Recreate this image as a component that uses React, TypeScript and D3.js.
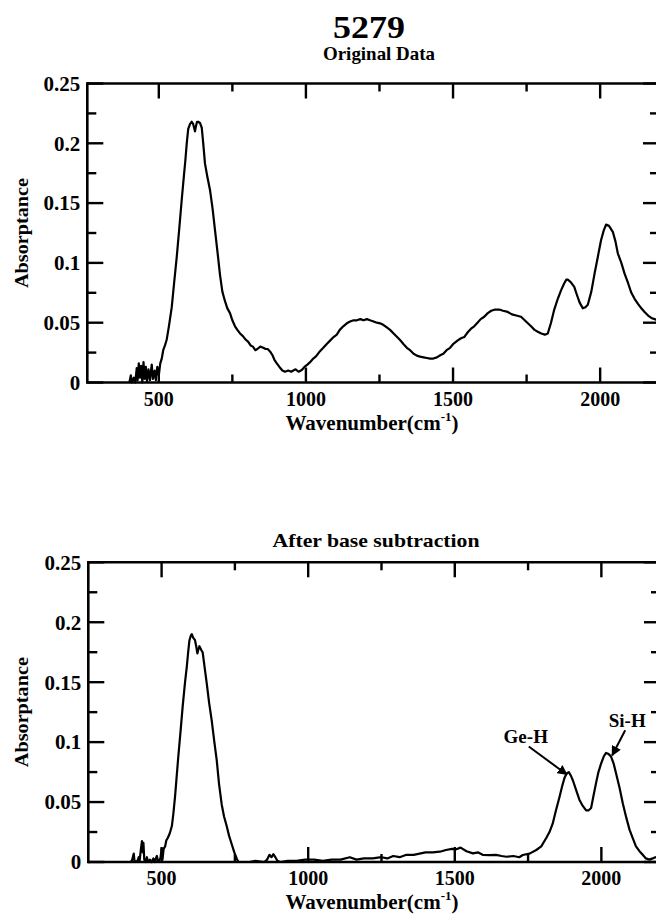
import React from 'react';
import * as d3 from 'd3';

// ---------- data ----------
const xTickMajor = [500, 1000, 1500, 2000];
const xTickMinor = [750, 1250, 1750];
const yTickMajor = [0, 0.05, 0.1, 0.15, 0.2, 0.25];
const yTickLabels = ['0', '0.05', '0.1', '0.15', '0.2', '0.25'];
const yTickMinor = [0.025, 0.075, 0.125, 0.175, 0.225];

const mainTitle = '5279';
const topTitle = 'Original Data';
const bottomTitle = 'After base subtraction';
const yLabel = 'Absorptance';

const originalWn = [400, 405, 408, 415, 420, 425, 428, 432, 436, 440, 444, 448, 452, 456, 460, 465, 470, 476, 480, 486, 490, 495, 500, 505, 510, 515, 521, 527, 535, 544, 552, 561, 570, 578, 585, 590, 595, 600, 606, 612, 617, 621, 623, 626, 630, 634, 640, 646, 651, 657, 665, 674, 683, 691, 700, 708, 716, 725, 733, 742, 750, 759, 767, 776, 785, 795, 804, 812, 820, 828, 835, 845, 855, 863, 870, 878, 886, 893, 901, 910, 920, 929, 940, 950, 957, 965, 975, 986, 995, 1005, 1014, 1025, 1035, 1047, 1059, 1070, 1082, 1094, 1105, 1115, 1127, 1139, 1150, 1162, 1173, 1185, 1196, 1207, 1218, 1230, 1241, 1252, 1264, 1275, 1286, 1298, 1310, 1320, 1332, 1343, 1354, 1366, 1377, 1388, 1400, 1411, 1422, 1433, 1445, 1458, 1467, 1478, 1490, 1500, 1515, 1527, 1538, 1550, 1561, 1572, 1583, 1594, 1606, 1618, 1630, 1643, 1657, 1670, 1686, 1700, 1715, 1731, 1748, 1765, 1777, 1788, 1800, 1812, 1822, 1833, 1844, 1856, 1867, 1878, 1885, 1890, 1900, 1912, 1920, 1930, 1941, 1950, 1958, 1970, 1981, 1992, 2003, 2012, 2020, 2030, 2043, 2052, 2060, 2072, 2083, 2095, 2106, 2117, 2128, 2140, 2151, 2163, 2174, 2185, 2194, 2200];
const originalAbs = [0, 0.006, 0, 0.004, 0, 0.012, 0.002, 0.016, 0.004, 0.014, 0, 0.017, 0.003, 0.013, 0.001, 0.011, 0.002, 0.015, 0.003, 0.01, 0.002, 0.013, 0.006, 0.016, 0.02, 0.027, 0.031, 0.036, 0.048, 0.063, 0.083, 0.105, 0.13, 0.153, 0.172, 0.185, 0.2, 0.212, 0.216, 0.218, 0.216, 0.212, 0.21, 0.214, 0.218, 0.218, 0.217, 0.213, 0.2, 0.183, 0.172, 0.161, 0.145, 0.1275, 0.108, 0.09, 0.076, 0.068, 0.062, 0.058, 0.052, 0.047, 0.044, 0.041, 0.039, 0.036, 0.034, 0.031, 0.03, 0.027, 0.028, 0.03, 0.029, 0.028, 0.028, 0.026, 0.023, 0.019, 0.016, 0.013, 0.01, 0.009, 0.01, 0.009, 0.01, 0.011, 0.009, 0.0105, 0.013, 0.015, 0.017, 0.02, 0.022, 0.026, 0.029, 0.032, 0.035, 0.038, 0.04, 0.044, 0.047, 0.0495, 0.051, 0.052, 0.052, 0.053, 0.052, 0.053, 0.052, 0.051, 0.05, 0.0495, 0.048, 0.046, 0.044, 0.041, 0.038, 0.0355, 0.032, 0.029, 0.027, 0.024, 0.0225, 0.0216, 0.021, 0.0205, 0.02, 0.02, 0.021, 0.023, 0.024, 0.027, 0.029, 0.032, 0.035, 0.037, 0.038, 0.042, 0.045, 0.047, 0.05, 0.053, 0.055, 0.058, 0.06, 0.061, 0.061, 0.06, 0.059, 0.057, 0.056, 0.055, 0.051, 0.047, 0.044, 0.0425, 0.041, 0.04, 0.041, 0.05, 0.061, 0.07, 0.077, 0.083, 0.086, 0.086, 0.084, 0.08, 0.074, 0.067, 0.062, 0.063, 0.065, 0.076, 0.091, 0.105, 0.119, 0.127, 0.132, 0.131, 0.126, 0.118, 0.108, 0.1, 0.091, 0.083, 0.075, 0.07, 0.066, 0.062, 0.059, 0.056, 0.054, 0.053, 0.052, 0.052];

const subtractedWn = [395, 400, 405, 408, 418, 422, 425, 430, 433, 436, 438, 441, 446, 450, 453, 460, 466, 472, 476, 484, 488, 496, 500, 503, 507, 512, 516, 521, 528, 535, 540, 546, 551, 557, 565, 572, 580, 586, 591, 595, 600, 603, 608, 614, 618, 622, 625, 629, 635, 640, 647, 654, 662, 671, 680, 688, 696, 705, 713, 722, 730, 739, 748, 756, 762, 800, 820, 850, 860, 868, 875, 881, 888, 895, 905, 930, 960, 990, 1020, 1050, 1080, 1110, 1142, 1165, 1190, 1220, 1250, 1270, 1290, 1312, 1335, 1360, 1380, 1400, 1425, 1449, 1470, 1490, 1505, 1520, 1540, 1562, 1580, 1595, 1619, 1640, 1660, 1676, 1700, 1720, 1732, 1755, 1778, 1795, 1812, 1823, 1834, 1845, 1857, 1866, 1874, 1882, 1889, 1896, 1903, 1914, 1925, 1936, 1948, 1956, 1965, 1973, 1982, 1990, 1999, 2008, 2016, 2025, 2033, 2042, 2050, 2062, 2073, 2085, 2096, 2107, 2118, 2130, 2141, 2152, 2164, 2175, 2184, 2200];
const subtractedAbs = [0, 0.002, 0.007, 0, 0.001, 0.004, 0.001, 0.012, 0.0175, 0.008, 0.016, 0.002, 0, 0.004, 0, 0.002, 0, 0.003, 0, 0.005, 0, 0.003, 0.011, 0.002, 0.011, 0.013, 0.018, 0.02, 0.024, 0.03, 0.04, 0.055, 0.07, 0.088, 0.11, 0.13, 0.15, 0.163, 0.176, 0.185, 0.189, 0.19, 0.187, 0.185, 0.18, 0.174, 0.177, 0.18, 0.177, 0.175, 0.162, 0.149, 0.133, 0.118, 0.1, 0.085, 0.065, 0.048, 0.038, 0.03, 0.022, 0.015, 0.008, 0.003, 0, 0, 0.001, 0, 0.002, 0.006, 0.004, 0.0065, 0.004, 0.001, 0, 0.001, 0.001, 0.002, 0.002, 0.001, 0.002, 0.002, 0.004, 0.002, 0.003, 0.003, 0.004, 0.003, 0.005, 0.004, 0.006, 0.006, 0.007, 0.008, 0.008, 0.0086, 0.01, 0.011, 0.0106, 0.012, 0.009, 0.0072, 0.008, 0.006, 0.0058, 0.006, 0.005, 0.0044, 0.005, 0.004, 0.0058, 0.007, 0.01, 0.013, 0.02, 0.025, 0.032, 0.043, 0.054, 0.063, 0.07, 0.074, 0.075, 0.072, 0.068, 0.06, 0.052, 0.047, 0.043, 0.043, 0.045, 0.055, 0.066, 0.075, 0.082, 0.088, 0.091, 0.09, 0.088, 0.082, 0.074, 0.062, 0.049, 0.037, 0.027, 0.02, 0.013, 0.009, 0.006, 0.003, 0.002, 0.003, 0.004, 0.003];

const annotationLabels = ['Ge-H', 'Si-H'];
const annotationWn = [1882, 2037];
const annotationAbs = [0.073, 0.089];

// ---------- layout ----------
const W = 656;
const H = 921;
const FONT = "'Liberation Serif', 'Times New Roman', Times, serif";

type PanelProps = {
  wn: number[];
  abs: number[];
  xDomain: [number, number];
  xRange: [number, number];
  yRange: [number, number];
  title: string;
  titleX: number;
  titleY: number;
  titleLen: number;
  showAnnotations?: boolean;
};

const MAJOR = 15;
const MINOR = 8;
const YMAJOR = 16;
const YMINOR = 9;

function Panel(p: PanelProps) {
  const x = d3.scaleLinear().domain(p.xDomain).range(p.xRange);
  const y = d3.scaleLinear().domain([0, 0.25]).range(p.yRange);
  const [x0, x1] = p.xRange;
  const [yb, yt] = p.yRange;
  const pts = p.wn.map((w, i) => [w, p.abs[i]] as [number, number]);
  const line = d3
    .line<[number, number]>()
    .x((d) => x(d[0]))
    .y((d) => y(d[1]));
  const cx = 372;
  const cy = (yb + yt) / 2;
  const sw = 2.4;
  return (
    <g>
      <text
        x={p.titleX}
        y={p.titleY}
        textAnchor="middle"
        fontFamily={FONT}
        fontWeight="bold"
        fontSize={19}
        textLength={p.titleLen}
        lengthAdjust="spacingAndGlyphs"
      >
        {p.title}
      </text>
      {/* frame */}
      <line x1={x0} x2={x1} y1={yb} y2={yb} stroke="#000" strokeWidth={2.6} />
      <line x1={x0} x2={x1} y1={yt} y2={yt} stroke="#000" strokeWidth={2.6} />
      <line x1={x0} x2={x0} y1={yt - 1.3} y2={yb + 1.3} stroke="#000" strokeWidth={2.6} />
      <line x1={x1} x2={x1} y1={yt - 1.3} y2={yb + 1.3} stroke="#000" strokeWidth={2.6} />
      {/* x ticks */}
      {xTickMajor.map((t) => (
        <g key={'xM' + t}>
          <line x1={x(t)} x2={x(t)} y1={yb} y2={yb - MAJOR} stroke="#000" strokeWidth={sw} />
          <line x1={x(t)} x2={x(t)} y1={yt} y2={yt + MAJOR} stroke="#000" strokeWidth={sw} />
          <text
            x={x(t)}
            y={yb + 23}
            textAnchor="middle"
            fontFamily={FONT}
            fontWeight="bold"
            fontSize={20}
          >
            {t}
          </text>
        </g>
      ))}
      {xTickMinor.map((t) => (
        <g key={'xm' + t}>
          <line x1={x(t)} x2={x(t)} y1={yb} y2={yb - MINOR} stroke="#000" strokeWidth={sw} />
          <line x1={x(t)} x2={x(t)} y1={yt} y2={yt + MINOR} stroke="#000" strokeWidth={sw} />
        </g>
      ))}
      {/* y ticks */}
      {yTickMajor.map((t, i) => (
        <g key={'yM' + t}>
          <line x1={x0} x2={x0 + YMAJOR} y1={y(t)} y2={y(t)} stroke="#000" strokeWidth={sw} />
          <line x1={x1} x2={x1 - YMAJOR} y1={y(t)} y2={y(t)} stroke="#000" strokeWidth={sw} />
          <text
            x={x0 - 7}
            y={y(t)}
            dy="0.35em"
            textAnchor="end"
            fontFamily={FONT}
            fontWeight="bold"
            fontSize={21}
          >
            {yTickLabels[i]}
          </text>
        </g>
      ))}
      {yTickMinor.map((t) => (
        <g key={'ym' + t}>
          <line x1={x0} x2={x0 + YMINOR} y1={y(t)} y2={y(t)} stroke="#000" strokeWidth={sw} />
          <line x1={x1} x2={x1 - YMINOR} y1={y(t)} y2={y(t)} stroke="#000" strokeWidth={sw} />
        </g>
      ))}
      {/* axis labels */}
      <text
        transform={`translate(28,${cy}) rotate(-90)`}
        textAnchor="middle"
        fontFamily={FONT}
        fontWeight="bold"
        fontSize={19}
        textLength={110}
        lengthAdjust="spacingAndGlyphs"
      >
        {yLabel}
      </text>
      <text
        x={cx}
        y={yb + 47}
        textAnchor="middle"
        fontFamily={FONT}
        fontWeight="bold"
        fontSize={21}
      >
        Wavenumber(cm
        <tspan dy={-9} fontSize={13}>
          -1
        </tspan>
        <tspan dy={9}>)</tspan>
      </text>
      {/* data */}
      <path d={line(pts) || ''} fill="none" stroke="#000" strokeWidth={2.2} strokeLinejoin="round" />
      {p.showAnnotations &&
        annotationLabels.map((lab, i) => {
          const tx = x(annotationWn[i]);
          const ty = y(annotationAbs[i]);
          const isGe = i === 0;
          const sx = isGe ? tx - 38 : tx + 13;
          const sy = isGe ? ty - 28 : ty - 25;
          const lx = isGe ? tx - 41 : tx + 15;
          const ly = isGe ? ty - 31 : ty - 28;
          return (
            <g key={lab}>
              <line
                x1={sx}
                y1={sy}
                x2={tx}
                y2={ty}
                stroke="#000"
                strokeWidth={2}
                markerEnd="url(#arrow)"
              />
              <text
                x={lx}
                y={ly}
                textAnchor="middle"
                fontFamily={FONT}
                fontWeight="bold"
                fontSize={19}
              >
                {lab}
              </text>
            </g>
          );
        })}
    </g>
  );
}

export default function App() {
  return (
    <div style={{ position: 'absolute', left: 0, top: 0, width: W, height: H, background: '#fff' }}>
      <svg width={W} height={H} viewBox={`0 0 ${W} ${H}`} style={{ display: 'block' }}>
        <defs>
          <marker
            id="arrow"
            viewBox="0 0 10 10"
            refX={9}
            refY={5}
            markerWidth={5}
            markerHeight={5}
            orient="auto"
            markerUnits="strokeWidth"
          >
            <path d="M0,0 L10,5 L0,10 z" fill="#000" />
          </marker>
        </defs>
        <rect x={0} y={0} width={W} height={H} fill="#fff" />
        <text
          x={369}
          y={38}
          textAnchor="middle"
          fontFamily={FONT}
          fontWeight="bold"
          fontSize={31}
          textLength={72}
          lengthAdjust="spacingAndGlyphs"
        >
          {mainTitle}
        </text>
        <Panel
          wn={originalWn}
          abs={originalAbs}
          xDomain={[257, 2200]}
          xRange={[87.3, 659]}
          yRange={[382.5, 83.5]}
          title={topTitle}
          titleX={379}
          titleY={60}
          titleLen={112}
        />
        <Panel
          wn={subtractedWn}
          abs={subtractedAbs}
          xDomain={[250, 2200]}
          xRange={[88.3, 660]}
          yRange={[862, 562.3]}
          title={bottomTitle}
          titleX={376}
          titleY={547}
          titleLen={207}
          showAnnotations
        />
      </svg>
    </div>
  );
}
